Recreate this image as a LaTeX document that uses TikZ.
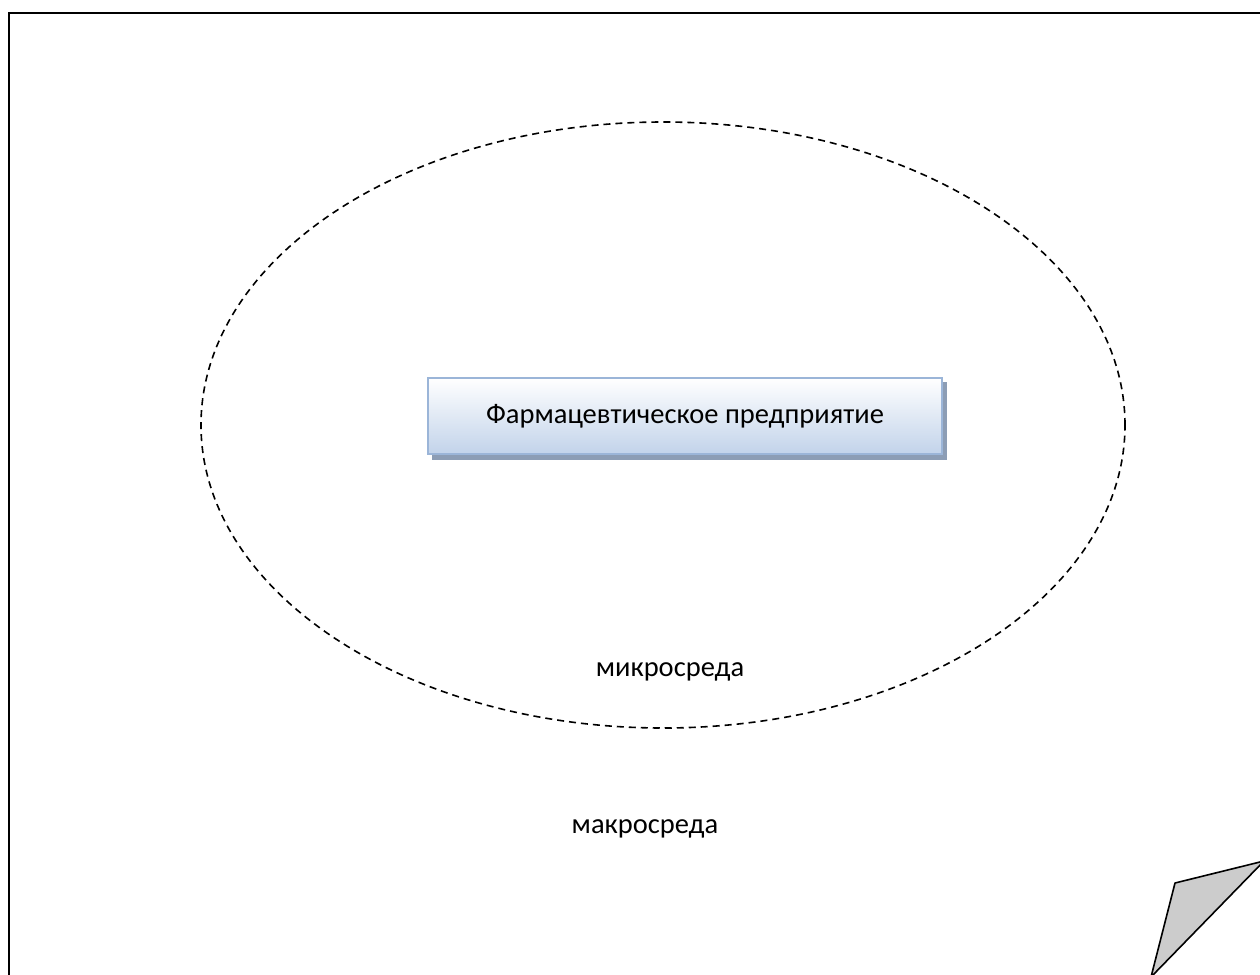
\documentclass[tikz,border=0pt]{standalone}
\usepackage{fontspec}
\setmainfont{Carlito}
\usetikzlibrary{shapes.geometric}
\begin{document}
\definecolor{boxtop}{HTML}{FFFFFF}
\definecolor{boxbot}{HTML}{C2D3EA}
\definecolor{boxline}{HTML}{9BB5D8}
\definecolor{boxshadow}{HTML}{8C9DB5}
\definecolor{curl}{HTML}{CCCCCC}
\tikzset{
  frame/.style={draw=black, line width=2.6pt},
  envring/.style={draw=black, line width=1.6pt, dash pattern=on 7pt off 5pt},
  firmbox/.style={draw=boxline, line width=1.8pt, top color=boxtop, bottom color=boxbot,
    minimum width=514pt, minimum height=76pt, inner sep=0pt, font=\fontsize{28.5}{32}\selectfont},
  label/.style={inner sep=0pt, font=\fontsize{28.5}{32}\selectfont},
}
\begin{tikzpicture}[x=1pt,y=-1pt]
\useasboundingbox (0,0) rectangle (1260,974);
\clip (0,0) rectangle (1260,974);
\fill[white] (0,0) rectangle (1260,974);
% outer frame (macro-environment), running past the right and bottom edges
\draw[frame] (9,13) rectangle (1300,1010);
% folded page corner
\coordinate (c1) at (1175,883);
\coordinate (c2) at (1264,861);
\coordinate (c3) at (1151,977);
\filldraw[fill=curl, draw=black, line width=1.6pt, line join=round] (c1) -- (c2) -- (c3) -- cycle;
% micro-environment ring
\node[envring, ellipse, minimum width=924pt, minimum height=606pt, inner sep=0pt] (micro) at (663,425) {};
% the enterprise
\fill[boxshadow] (432,382) rectangle (947,460);
\node[firmbox] (firm) at (685,416) {Фармацевтическое предприятие};
\node[label] (microlbl) at (670,672) {микросреда};
\node[label] (macrolbl) at (645,829) {макросреда};
\end{tikzpicture}
\end{document}
